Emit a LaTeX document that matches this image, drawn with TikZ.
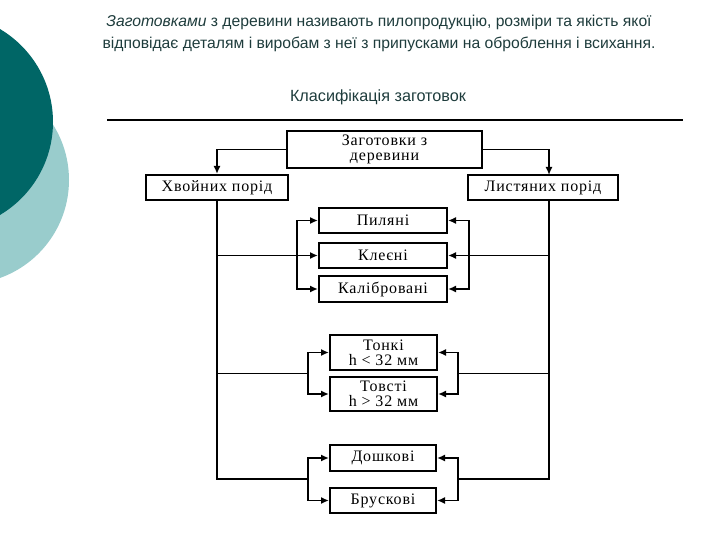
\documentclass[tikz,border=0pt]{standalone}
\usepackage{fontspec}
\setmainfont{Liberation Sans}
\newfontfamily\boxfont[LetterSpace=5]{Liberation Serif}
\usetikzlibrary{arrows.meta}

\definecolor{tealdark}{RGB}{0,102,102}
\definecolor{teallight}{RGB}{153,204,204}
\definecolor{headtext}{RGB}{30,60,60}

\tikzset{
    box/.style={draw, line width=2pt, fill=white, inner sep=0pt, align=center,
        font=\boxfont\fontsize{16}{15}\selectfont},
    link/.style={line width=1.8pt},
    arr/.style={link, -{Latex[length=8pt,width=7pt]}},
}

\begin{document}
\begin{tikzpicture}[x=1pt,y=-1pt]
    \useasboundingbox (0,0) rectangle (720,540);

    % Cercles decoratifs a gauche
    \begin{scope}
        \clip (0,0) rectangle (720,540);
        \fill[teallight] (-35,180) circle (104pt);
        \fill[tealdark] (-55,122) circle (108pt);
    \end{scope}

    % Texte d'en-tete
    \node[headtext, align=center, font=\fontsize{15.7}{22}\selectfont] (intro) at (379,33)
        {\textit{Заготовками} з деревини називають пилопродукцію, розміри та якість якої\\
         відповідає деталям і виробам з неї з припусками на оброблення і всихання.};
    \node[headtext, font=\fontsize{16.2}{18}\selectfont] (title) at (378,97) {Класифікація заготовок};
    \coordinate (ruleL) at (107,120);
    \coordinate (ruleR) at (683,120);
    \draw[line width=1.2pt] (ruleL) -- (ruleR);

    % Boites principales
    \node[box, minimum width=195, minimum height=37] (zag) at (384.5,149.5) {Заготовки з\\деревини};
    \node[box, minimum width=142, minimum height=25] (xv) at (217,187.5) {Хвойних порід};
    \node[box, minimum width=150, minimum height=25] (lst) at (543,187.5) {Листяних порід};

    % Boites du milieu
    \node[box, minimum width=128, minimum height=25] (pyl) at (383,220.5) {Пиляні};
    \node[box, minimum width=128, minimum height=25] (kle) at (383,255.5) {Клеєні};
    \node[box, minimum width=128, minimum height=26] (kal) at (383,289) {Калібровані};

    \node[box, minimum width=107, minimum height=35] (ton) at (383.5,352.5) {Тонкі\\h < 32 мм};
    \node[box, minimum width=107, minimum height=34] (tov) at (383.5,394) {Товсті\\h > 32 мм};

    \node[box, minimum width=106, minimum height=26] (dos) at (383,458) {Дошкові};
    \node[box, minimum width=106, minimum height=25] (bru) at (383,500.5) {Брускові};

    % Points de jonction
    \coordinate (lstIn) at (549,175);
    \coordinate (trL) at (217,479);
    \coordinate (trR) at (549,479);
    \coordinate (bA) at (297,255.5);
    \coordinate (bB) at (469,255.5);
    \coordinate (bC) at (308,373.5);
    \coordinate (bD) at (458,373.5);
    \coordinate (bE) at (308,479);
    \coordinate (bF) at (458,479);

    % Fleches du haut
    \draw[arr] (zag.west) -| (xv.north);
    \draw[arr] (zag.east) -| (lstIn);

    % Troncs verticaux
    \draw[link] (xv.south) -- (trL) -- (bE);
    \draw[link] (lst.south -| lstIn) -- (trR) -- (bF);
    \draw[link] (217,373.5) -- (bC);
    \draw[link] (549,373.5) -- (bD);

    % Groupe Пиляні / Клеєні / Калібровані
    \draw[arr] (217,255.5) -- (kle.west);
    \draw[arr] (549,255.5) -- (kle.east);
    \draw[arr] (bA) |- (pyl.west);
    \draw[arr] (bA) |- (kal.west);
    \draw[arr] (bB) |- (pyl.east);
    \draw[arr] (bB) |- (kal.east);

    % Groupe Тонкі / Товсті
    \draw[arr] (bC) |- (ton.west);
    \draw[arr] (bC) |- (tov.west);
    \draw[arr] (bD) |- (ton.east);
    \draw[arr] (bD) |- (tov.east);

    % Groupe Дошкові / Брускові
    \draw[arr] (bE) |- (dos.west);
    \draw[arr] (bE) |- (bru.west);
    \draw[arr] (bF) |- (dos.east);
    \draw[arr] (bF) |- (bru.east);
\end{tikzpicture}
\end{document}
